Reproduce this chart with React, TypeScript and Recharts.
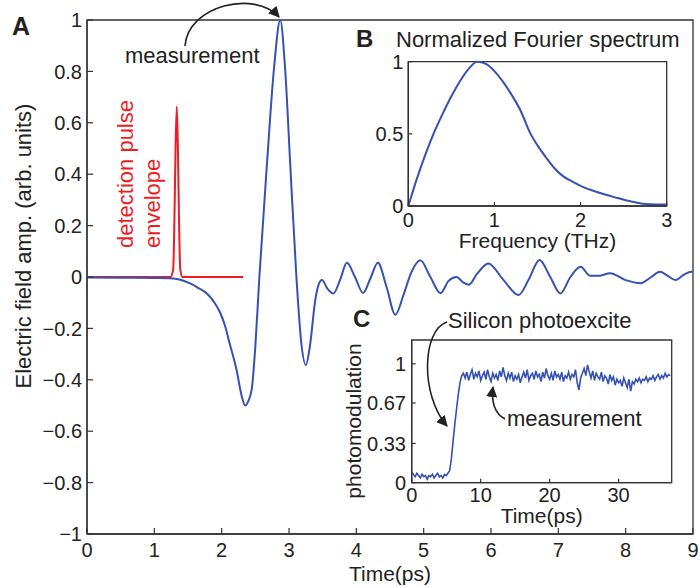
import { ComposedChart, LineChart, Line, XAxis, YAxis, ReferenceArea } from 'recharts';

// A: THz field waveform (time ps, amplitude)
const waveT = [0, 0.5, 1.0, 1.23, 1.4, 1.53, 1.65, 1.78, 1.88, 1.98, 2.05, 2.12, 2.22, 2.3, 2.35, 2.4, 2.45, 2.5, 2.56, 2.67, 2.78, 2.87, 2.94, 3.02, 3.11, 3.18, 3.25, 3.31, 3.39, 3.44, 3.49, 3.57, 3.66, 3.76, 3.86, 3.98, 4.1, 4.21, 4.32, 4.45, 4.58, 4.7, 4.82, 4.95, 5.1, 5.25, 5.37, 5.49, 5.58, 5.67, 5.8, 5.96, 6.18, 6.41, 6.56, 6.72, 6.88, 7.03, 7.18, 7.33, 7.47, 7.6, 7.77, 8.0, 8.22, 8.38, 8.51, 8.62, 8.74, 8.86, 8.98, 9.0];
const waveV = [-0.002, -0.003, -0.004, -0.005, -0.012, -0.025, -0.042, -0.064, -0.095, -0.14, -0.19, -0.26, -0.36, -0.466, -0.5, -0.48, -0.43, -0.27, 0, 0.43, 0.82, 1.0, 0.82, 0.43, 0.0, -0.25, -0.342, -0.27, -0.09, -0.03, -0.012, -0.045, -0.064, -0.01, 0.055, 0.0, -0.062, -0.005, 0.055, -0.04, -0.147, -0.07, 0.02, 0.065, 0.0, -0.063, -0.015, 0.0, -0.02, -0.03, 0.015, 0.053, -0.01, -0.07, -0.01, 0.066, 0.0, -0.064, 0.0, 0.04, 0.005, 0.005, 0.015, -0.012, -0.024, 0.0, 0.02, 0.005, -0.012, 0.008, 0.02, 0.02];

// detection pulse envelope
const pulseT = [0, 1.2, 1.24, 1.28, 1.3, 1.315, 1.333, 1.35, 1.365, 1.385, 1.42, 1.5, 2.32];
const pulseV = [0, 0, 0, 0.03, 0.25, 0.5, 0.663, 0.5, 0.25, 0.03, 0, 0, 0];

const mainXTicks = [0, 1, 2, 3, 4, 5, 6, 7, 8, 9];
const mainYTicks = [-1, -0.8, -0.6, -0.4, -0.2, 0, 0.2, 0.4, 0.6, 0.8, 1];

// B: normalized Fourier spectrum
const freq = [0, 0.1, 0.2, 0.3, 0.4, 0.5, 0.6, 0.7, 0.8, 0.9, 1.0, 1.1, 1.2, 1.3, 1.42, 1.5, 1.6, 1.7, 1.8, 1.9, 2.0, 2.2, 2.4, 2.6, 2.8, 3.0];
const spec = [0, 0.19, 0.36, 0.51, 0.64, 0.76, 0.865, 0.95, 1.0, 0.985, 0.935, 0.86, 0.77, 0.665, 0.5, 0.42, 0.335, 0.26, 0.205, 0.17, 0.14, 0.095, 0.06, 0.03, 0.012, 0.01];
const specXTicks = [0, 1, 2, 3];
const specYTicks = [0, 0.5, 1];

// C: photomodulation, sampled every 0.25 ps
const pmStep = 0.25;
const pmValues = [
  0.09, 0.07, 0.05, 0.08, 0.06, 0.04, 0.07, 0.05, 0.06, 0.03, 0.06, 0.05, 0.07, 0.04, 0.06, 0.08, 0.05, 0.06, 0.04, 0.07, 0.06, 0.08,
  0.1, 0.2, 0.35, 0.49, 0.62, 0.74, 0.84, 0.9, 0.92,
  0.88, 0.93, 0.86, 0.91, 0.95, 0.87, 0.92, 0.89, 0.94, 0.86,
  0.9, 0.93, 0.87, 0.95, 0.89, 0.85, 0.92, 0.88, 0.91, 0.86,
  0.94, 0.89, 0.97, 0.9, 0.86, 0.92, 0.88, 0.93, 0.85, 0.9,
  0.87, 0.91, 0.84, 0.89, 0.93, 0.88, 0.95, 0.86, 0.9, 0.92,
  0.87, 0.94, 0.89, 0.91, 0.85, 0.93, 0.88, 0.96, 0.9, 0.87,
  0.92, 0.86, 0.94, 0.89, 0.91, 0.87, 0.93, 0.85, 0.9, 0.88,
  0.93, 0.87, 0.91, 0.89, 0.95, 0.84, 0.78, 0.88, 0.92, 0.96,
  0.9, 0.99, 0.93, 0.88, 0.94, 0.86, 0.92, 0.89, 0.87, 0.93,
  0.85, 0.9, 0.88, 0.83, 0.91, 0.86, 0.89, 0.82, 0.87, 0.84,
  0.86, 0.81, 0.88, 0.84, 0.8, 0.87, 0.77, 0.85, 0.83, 0.87,
  0.85, 0.88, 0.84, 0.87, 0.86, 0.89, 0.85, 0.88, 0.87, 0.9,
  0.86, 0.89, 0.91, 0.87, 0.9, 0.88, 0.92, 0.89, 0.91, 0.9,
];
const pmXTicks = [0, 10, 20, 30];
const pmYTicks = [0, 0.33, 0.67, 1];

const wave = waveT.map((t, i) => ({ t, v: waveV[i] }));
const pulse = pulseT.map((t, i) => ({ t, v: pulseV[i] }));
const spectrum = freq.map((f, i) => ({ f, v: spec[i] }));
const photo = pmValues.map((v, i) => ({ t: i * pmStep, v }));

const FONT = "'Liberation Sans', Arial, sans-serif";
const INK = '#222';
const BLUE = '#3551b3';
const RED = '#ee1c25';
const AXIS = '#333';

const fmtMain = (v: number) => (v === 0 ? '0' : (v < 0 ? '\u2212' : '') + Math.abs(v));
const noLabel = () => <g />;
const tickStyle = { fill: INK, fontSize: 20, fontFamily: FONT };
const axisLine = { stroke: AXIS, strokeWidth: 1.3 };
const tickLine = { stroke: AXIS, strokeWidth: 1.2 };

export default function App() {
  return (
    <div style={{ position: 'absolute', left: 0, top: 0, width: 700, height: 587, background: '#fff' }}>
      {/* A: main waveform */}
      <div style={{ position: 'absolute', left: 0, top: 0 }}>
        <ComposedChart width={700} height={587} margin={{ top: 20, right: 7, bottom: 5, left: 0 }}>
          <XAxis xAxisId="b" type="number" dataKey="t" domain={[0, 9]} ticks={mainXTicks} interval={0}
            height={48} tickSize={-6} tickMargin={15} axisLine={axisLine} tickLine={tickLine} tick={tickStyle} allowDataOverflow
            label={{ value: 'Time(ps)', position: 'insideBottom', offset: 1.5, fill: INK, fontSize: 21, fontFamily: FONT }} />
          <XAxis xAxisId="t" orientation="top" type="number" dataKey="t" domain={[0, 9]} ticks={mainXTicks}
            height={0} tickSize={-6} axisLine={axisLine} tickLine={tickLine} tick={noLabel} allowDataOverflow />
          <YAxis yAxisId="l" type="number" domain={[-1, 1]} ticks={mainYTicks} interval={0} width={87}
            tickSize={-6} tickMargin={11} axisLine={axisLine} tickLine={tickLine} tick={tickStyle} tickFormatter={fmtMain} allowDataOverflow />
          <YAxis yAxisId="r" orientation="right" type="number" domain={[-1, 1]} ticks={mainYTicks} width={0}
            tickSize={-6} axisLine={axisLine} tickLine={tickLine} tick={noLabel} allowDataOverflow />
          {/* plot box */}
          <ReferenceArea xAxisId="b" yAxisId="l" x1={0} x2={9} y1={-1} y2={1} fill="none" stroke={AXIS}
            strokeWidth={1.3} ifOverflow="visible" />
          <Line xAxisId="b" yAxisId="l" data={pulse} dataKey="v" type="monotone" stroke={RED} strokeWidth={2}
            dot={false} isAnimationActive={false} />
          <Line xAxisId="b" yAxisId="l" data={wave} dataKey="v" type="monotone" stroke={BLUE} strokeWidth={2}
            dot={false} isAnimationActive={false} />
        </ComposedChart>
      </div>

      {/* B: Fourier spectrum inset */}
      <div style={{ position: 'absolute', left: 340, top: 20 }}>
        <LineChart width={350} height={240} data={spectrum} margin={{ top: 41.7, right: 23.3, bottom: 4, left: 0 }}>
          <XAxis xAxisId="b" type="number" dataKey="f" domain={[0, 3]} ticks={specXTicks} interval={0}
            height={50} tickSize={-4} tickMargin={11} axisLine={axisLine} tickLine={tickLine} tick={tickStyle}
            label={{ value: 'Frequency (THz)', position: 'insideBottom', offset: 8, fill: INK, fontSize: 21, fontFamily: FONT }} />
          <XAxis xAxisId="t" orientation="top" type="number" dataKey="f" domain={[0, 3]} ticks={specXTicks}
            height={0} tickSize={-4} axisLine={axisLine} tickLine={tickLine} tick={noLabel} />
          <YAxis yAxisId="l" type="number" domain={[0, 1]} ticks={specYTicks} interval={0} width={68.3}
            tickSize={-4} tickMargin={9} axisLine={axisLine} tickLine={tickLine} tick={tickStyle} />
          <YAxis yAxisId="r" orientation="right" type="number" domain={[0, 1]} ticks={specYTicks} width={0}
            tickSize={-4} axisLine={axisLine} tickLine={tickLine} tick={noLabel} />
          <ReferenceArea xAxisId="b" yAxisId="l" x1={0} x2={3} y1={0} y2={1} fill="none" stroke={AXIS}
            strokeWidth={1.3} ifOverflow="visible" />
          <Line xAxisId="b" yAxisId="l" dataKey="v" type="monotone" stroke={BLUE} strokeWidth={2}
            dot={false} isAnimationActive={false} />
        </LineChart>
      </div>

      {/* C: photomodulation inset */}
      <div style={{ position: 'absolute', left: 340, top: 330 }}>
        <LineChart width={350} height={200} data={photo} margin={{ top: 10, right: 18.3, bottom: 2.3, left: 0 }}>
          <XAxis xAxisId="b" type="number" dataKey="t" domain={[0, 37.7]} ticks={pmXTicks} interval={0}
            height={45} tickSize={-4} tickMargin={9.3} axisLine={axisLine} tickLine={tickLine} tick={tickStyle} allowDataOverflow
            label={{ value: 'Time(ps)', position: 'insideBottom', offset: 4.5, fill: INK, fontSize: 21, fontFamily: FONT }} />
          <XAxis xAxisId="t" orientation="top" type="number" dataKey="t" domain={[0, 37.7]} ticks={pmXTicks}
            height={0} tickSize={-4} axisLine={axisLine} tickLine={tickLine} tick={noLabel} allowDataOverflow />
          <YAxis yAxisId="l" type="number" domain={[0, 1.2]} ticks={pmYTicks} interval={0} width={71.7}
            tickSize={-4} tickMargin={9.7} axisLine={axisLine} tickLine={tickLine} tick={tickStyle} />
          <YAxis yAxisId="r" orientation="right" type="number" domain={[0, 1.2]} ticks={pmYTicks} width={0}
            tickSize={-4} axisLine={axisLine} tickLine={tickLine} tick={noLabel} />
          <ReferenceArea xAxisId="b" yAxisId="l" x1={0} x2={37.7} y1={0} y2={1.2} fill="none" stroke={AXIS}
            strokeWidth={1.3} ifOverflow="visible" />
          <Line xAxisId="b" yAxisId="l" dataKey="v" type="linear" stroke={BLUE} strokeWidth={1.6}
            dot={false} isAnimationActive={false} />
        </LineChart>
      </div>

      {/* annotations */}
      <svg width={700} height={587} style={{ position: 'absolute', left: 0, top: 0, pointerEvents: 'none' }}
        fontFamily={FONT}>
        <defs>
          <marker id="ah" viewBox="0 0 10 10" refX="9" refY="5" markerWidth="7" markerHeight="7" orient="auto">
            <path d="M0,0 L10,5 L0,10 z" fill={INK} />
          </marker>
        </defs>
        <text x={12} y={35} fontSize={25} fontWeight="bold" fill={INK}>A</text>
        <text x={356} y={47} fontSize={24} fontWeight="bold" fill={INK}>B</text>
        <text x={353} y={327} fontSize={24} fontWeight="bold" fill={INK}>C</text>

        <text x={31} y={246} fontSize={22} fill={INK} textAnchor="middle" transform="rotate(-90 31 246)">
          Electric field amp. (arb. units)
        </text>
        <text x={361} y={421} fontSize={21} fill={INK} textAnchor="middle" transform="rotate(-90 361 421)">
          photomodulation
        </text>

        <text x={396} y={47} fontSize={22} fill={INK}>Normalized Fourier spectrum</text>

        <text x={125} y={63} fontSize={22} fill={INK}>measurement</text>
        <path d="M185,46 C188,5 255,-10 279,17" fill="none" stroke={INK} strokeWidth={1.6} markerEnd="url(#ah)" />

        <text x={133} y={248} fontSize={22} fill={RED} transform="rotate(-90 133 248)">detection pulse</text>
        <text x={160} y={248} fontSize={22} fill={RED} transform="rotate(-90 160 248)">envelope</text>

        <text x={448} y={328} fontSize={22} fill={INK}>Silicon photoexcite</text>
        <path d="M447,322 C422,330 420,395 447,426" fill="none" stroke={INK} strokeWidth={1.6} markerEnd="url(#ah)" />

        <text x={507} y={426} fontSize={22} fill={INK}>measurement</text>
        <path d="M505,419 C495,414 491,402 493,387" fill="none" stroke={INK} strokeWidth={1.6} markerEnd="url(#ah)" />
      </svg>
    </div>
  );
}
